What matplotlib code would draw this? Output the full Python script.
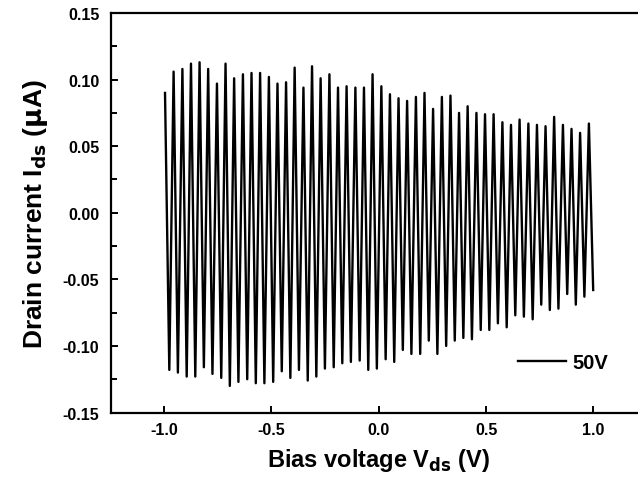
"""
Drain current vs. bias voltage under 50 V gate pulses (zig-zag I-V sweep).
"""
import matplotlib
matplotlib.use("Agg")
import matplotlib.pyplot as plt
from matplotlib.ticker import FormatStrFormatter, MultipleLocator

plt.rcParams["font.family"] = ["Liberation Sans", "DejaVu Sans"]
plt.rcParams["font.weight"] = "bold"
plt.rcParams["axes.unicode_minus"] = False

# bias voltage (V) at each upper turning point of the sweep
peak_v = [-0.996, -0.956, -0.915, -0.875, -0.835, -0.795, -0.754, -0.714, -0.674, -0.633,
          -0.593, -0.553, -0.512, -0.472, -0.432, -0.392, -0.351, -0.311, -0.271, -0.230,
          -0.190, -0.150, -0.109, -0.069, -0.029, 0.012, 0.052, 0.092, 0.132, 0.173,
          0.213, 0.253, 0.294, 0.334, 0.374, 0.414, 0.455, 0.495, 0.535, 0.576,
          0.616, 0.656, 0.697, 0.737, 0.777, 0.817, 0.858, 0.898, 0.938, 0.979]
# drain current (uA) at those points
peak_i = [0.090, 0.106, 0.108, 0.112, 0.113, 0.108, 0.097, 0.112, 0.101, 0.104,
          0.105, 0.105, 0.102, 0.097, 0.098, 0.109, 0.094, 0.110, 0.101, 0.104,
          0.094, 0.095, 0.094, 0.094, 0.104, 0.095, 0.089, 0.086, 0.084, 0.087,
          0.090, 0.078, 0.087, 0.088, 0.075, 0.080, 0.075, 0.074, 0.074, 0.068,
          0.066, 0.070, 0.067, 0.066, 0.065, 0.072, 0.066, 0.063, 0.060, 0.067]

# lower turning points
trough_v = [-0.976, -0.936, -0.895, -0.855, -0.815, -0.775, -0.734, -0.694, -0.654, -0.613,
            -0.573, -0.533, -0.492, -0.452, -0.412, -0.372, -0.331, -0.291, -0.251, -0.210,
            -0.170, -0.130, -0.089, -0.049, -0.009, 0.032, 0.072, 0.112, 0.152, 0.193,
            0.233, 0.273, 0.314, 0.354, 0.394, 0.434, 0.475, 0.515, 0.555, 0.596,
            0.636, 0.676, 0.717, 0.757, 0.797, 0.837, 0.878, 0.918, 0.958, 0.999]
trough_i = [-0.118, -0.120, -0.123, -0.123, -0.116, -0.121, -0.124, -0.130, -0.127, -0.125,
            -0.128, -0.128, -0.127, -0.119, -0.124, -0.118, -0.126, -0.123, -0.117, -0.116,
            -0.113, -0.112, -0.111, -0.118, -0.117, -0.110, -0.112, -0.103, -0.106, -0.106,
            -0.096, -0.106, -0.100, -0.096, -0.094, -0.095, -0.088, -0.088, -0.083, -0.086,
            -0.077, -0.078, -0.080, -0.069, -0.073, -0.072, -0.061, -0.069, -0.063, -0.058]

label = "50V"

# interleave into one zig-zag trace
v, i = [], []
for pv, pi, tv, ti in zip(peak_v, peak_i, trough_v, trough_i):
    v += [pv, tv]
    i += [pi, ti]

fig = plt.figure(figsize=(6.38, 4.85), dpi=100)
# right spine sits just past the image edge in the original
ax = fig.add_axes([0.1732, 0.1474, 0.841, 0.8237])
ax.plot(v, i, color="black", lw=1.7, label=label)

ax.set_xlim(-1.25, 1.25)
ax.set_ylim(-0.15, 0.15)
ax.xaxis.set_major_locator(MultipleLocator(0.5))
ax.xaxis.set_major_formatter(FormatStrFormatter("%.1f"))
ax.yaxis.set_major_locator(MultipleLocator(0.05))
ax.yaxis.set_minor_locator(MultipleLocator(0.025))
ax.yaxis.set_major_formatter(FormatStrFormatter("%.2f"))

for s in ax.spines.values():
    s.set_linewidth(1.6)
ax.tick_params(axis="both", which="both", direction="in", width=1.4, labelsize=11.5)
ax.tick_params(axis="x", which="major", length=5, pad=7)
ax.tick_params(axis="y", which="major", length=5, pad=8)
ax.tick_params(axis="y", which="minor", length=4)

ax.set_xlabel(r"Bias voltage V$_{\mathbf{ds}}$ (V)", fontsize=17, fontweight="bold", labelpad=6)
ax.set_ylabel(r"Drain current I$_{\mathbf{ds}}$ ($\mathbf{\mu}$A)", fontsize=19,
              fontweight="bold", labelpad=9)

ax.legend(loc="center left", bbox_to_anchor=(0.7596, 0.124), frameon=False,
          borderpad=0, borderaxespad=0, handlelength=2.4, handletextpad=0.3,
          prop={"weight": "bold", "size": 14.5})

fig.savefig("out.png", dpi=100)
